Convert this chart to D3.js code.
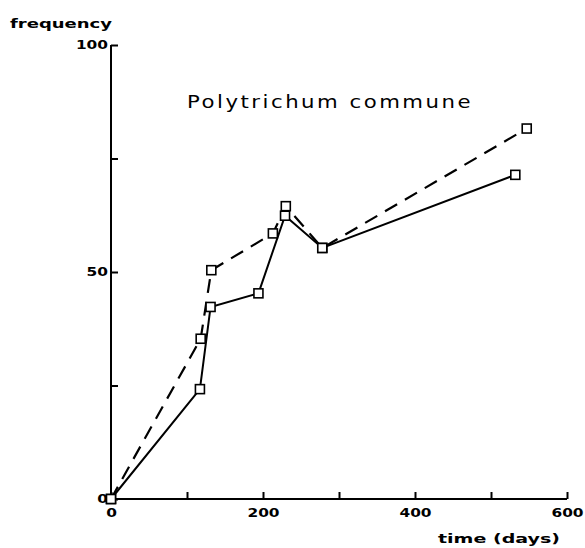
<!DOCTYPE html>
<html>
<head>
<meta charset="utf-8">
<script src="https://cdn.jsdelivr.net/npm/d3@7"></script>
<style>
  html, body { margin: 0; padding: 0; background: #fff; }
  svg text { font-family: "DejaVu Sans", "Liberation Sans", sans-serif; fill: #000; }
</style>
</head>
<body>
<svg id="chart" width="585" height="548"></svg>
<script>
// Frequency of Polytrichum commune over time, two series
const solidDays  = [0, 117, 131, 194, 229, 278, 532];
const solidFreq  = [0, 24.2, 42.3, 45.3, 62.4, 55.3, 71.4];
const dashedDays = [0, 118, 132, 213, 230, 278, 547];
const dashedFreq = [0, 35.3, 50.4, 58.5, 64.5, 55.3, 81.6];

const xTicks = [0, 100, 200, 300, 400, 500, 600];
const xTickLabels = ["0", "", "200", "", "400", "", "600"];
const yTicks = [0, 25, 50, 75, 100];
const yTickLabels = ["0", "", "50", "", "100"];

const title = "Polytrichum commune";
const xTitle = "time (days)";
const yTitle = "frequency";

const svg = d3.select("#chart");
const x = d3.scaleLinear().domain([0, 600]).range([111, 567]);
const y = d3.scaleLinear().domain([0, 100]).range([499, 45]);

// wide plotter-style lettering: stretch glyphs to a per-character width
function stretch(sel, perChar) {
  sel.each(function () {
    const t = d3.select(this).text();
    if (t.length) d3.select(this).attr("textLength", t.length * perChar)
      .attr("lengthAdjust", "spacingAndGlyphs");
  });
}

// x axis: ticks point up into the plot
const xAxis = d3.axisBottom(x).tickValues(xTicks).tickSize(-7).tickPadding(11)
  .tickFormat((d, i) => xTickLabels[i]);
const gx = svg.append("g").attr("transform", `translate(0,${y(0)})`).call(xAxis);
gx.select(".domain").attr("d", `M${x(0)},0H${x(600)}`).attr("stroke-width", 2);
gx.selectAll(".tick line").attr("stroke-width", 2);
gx.selectAll(".tick text").attr("font-size", 12).attr("font-weight", "bold")
  .attr("dy", "0.6em").call(stretch, 10.7);

// y axis: ticks point right into the plot
const yAxis = d3.axisLeft(y).tickValues(yTicks).tickSize(-7).tickPadding(3)
  .tickFormat((d, i) => yTickLabels[i]);
const gy = svg.append("g").attr("transform", `translate(${x(0)},0)`).call(yAxis);
gy.select(".domain").attr("d", `M0,${y(0)}V${y(100)}`).attr("stroke-width", 2);
gy.selectAll(".tick line").attr("stroke-width", 2);
gy.selectAll(".tick text").attr("font-size", 12).attr("font-weight", "bold")
  .call(stretch, 10.7);

// axis titles
svg.append("text").attr("x", 10).attr("y", 28).attr("font-size", 12)
  .attr("font-weight", "bold").text(yTitle)
  .attr("textLength", 102).attr("lengthAdjust", "spacingAndGlyphs");
svg.append("text").attr("x", 438).attr("y", 543)
  .attr("font-size", 12).attr("font-weight", "bold").text(xTitle)
  .attr("textLength", 122).attr("lengthAdjust", "spacingAndGlyphs");

// chart title
svg.append("text").attr("x", 187).attr("y", 108).attr("font-size", 17)
  .attr("letter-spacing", 2)
  .text(title).attr("textLength", 286).attr("lengthAdjust", "spacingAndGlyphs");

const line = d3.line().x(d => x(d[0])).y(d => y(d[1]));
const solid = solidDays.map((d, i) => [d, solidFreq[i]]);
const dashed = dashedDays.map((d, i) => [d, dashedFreq[i]]);

svg.append("path").datum(dashed).attr("d", line).attr("fill", "none")
  .attr("stroke", "#000").attr("stroke-width", 2.2).attr("stroke-dasharray", "14,9");
svg.append("path").datum(solid).attr("d", line).attr("fill", "none")
  .attr("stroke", "#000").attr("stroke-width", 2);

// square markers
const markers = svg.append("g");
[...solid, ...dashed].forEach(p => {
  markers.append("rect")
    .attr("x", x(p[0]) - 4.5).attr("y", y(p[1]) - 4.5)
    .attr("width", 9).attr("height", 9)
    .attr("fill", "#fff").attr("stroke", "#000").attr("stroke-width", 1.6);
});
</script>
</body>
</html>
